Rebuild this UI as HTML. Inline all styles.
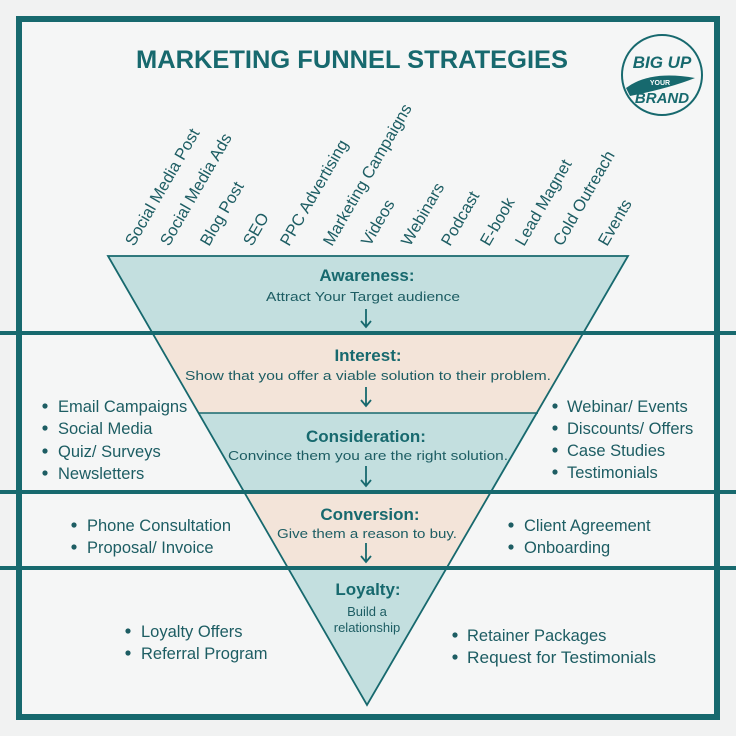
<!DOCTYPE html>
<html><head><meta charset="utf-8"><style>
html,body{margin:0;padding:0;background:#f1f2f2;}
svg{display:block;}
text{font-family:"Liberation Sans",sans-serif;}
</style></head><body>
<svg width="736" height="736" viewBox="0 0 736 736" xmlns="http://www.w3.org/2000/svg">
<rect x="0" y="0" width="736" height="736" fill="#f1f2f2"/>
<rect x="19" y="19" width="698" height="698" fill="#f5f6f6" stroke="#17696e" stroke-width="6"/>
<polygon points="108,256 628,256 584,333 152,333" fill="#c3dfdf"/>
<polygon points="152,333 584,333 538,413 198,413" fill="#f3e4d9"/>
<polygon points="198,413 538,413 492,492 244,492" fill="#c3dfdf"/>
<polygon points="244,492 492,492 447,568 288,568" fill="#f3e4d9"/>
<polygon points="288,568 447,568 367,705" fill="#c3dfdf"/>
<line x1="198" y1="413" x2="538" y2="413" stroke="#17696e" stroke-width="1.5"/>
<polygon points="108,256 628,256 367,705" fill="none" stroke="#17696e" stroke-width="1.8"/>
<rect x="0" y="331" width="736" height="4" fill="#17696e"/>
<rect x="0" y="490" width="736" height="4" fill="#17696e"/>
<rect x="0" y="566" width="736" height="4" fill="#17696e"/>
<text x="352" y="68" text-anchor="middle" font-size="25" font-weight="bold" fill="#17696e" textLength="432" lengthAdjust="spacingAndGlyphs">MARKETING FUNNEL STRATEGIES</text>
<ellipse cx="662" cy="75" rx="40" ry="40" fill="none" stroke="#17696e" stroke-width="2"/>
<text x="662" y="68" text-anchor="middle" font-family="Liberation Serif" font-style="italic" font-weight="bold" font-size="17" fill="#17696e">BIG UP</text>
<path d="M626 88 Q650 70 695 78 Q670 88 630 96 Z" fill="#17696e"/>
<text x="660" y="85" text-anchor="middle" font-size="7" font-weight="bold" fill="#fff">YOUR</text>
<text x="662" y="103" text-anchor="middle" font-family="Liberation Serif" font-style="italic" font-weight="bold" font-size="15" fill="#17696e">BRAND</text>
<g font-size="16.5" fill="#1d5d63">
<text transform="translate(134,247) rotate(-60)">Social Media Post</text>
<text transform="translate(169,247) rotate(-60)">Social Media Ads</text>
<text transform="translate(209,247) rotate(-60)">Blog Post</text>
<text transform="translate(252,247) rotate(-60)">SEO</text>
<text transform="translate(289,247) rotate(-60)">PPC Advertising</text>
<text transform="translate(332,247) rotate(-60)">Marketing Campaigns</text>
<text transform="translate(370,247) rotate(-60)">Videos</text>
<text transform="translate(410,247) rotate(-60)">Webinars</text>
<text transform="translate(450,247) rotate(-60)">Podcast</text>
<text transform="translate(489,247) rotate(-60)">E-book</text>
<text transform="translate(524,247) rotate(-60)">Lead Magnet</text>
<text transform="translate(562,247) rotate(-60)">Cold Outreach</text>
<text transform="translate(607,247) rotate(-60)">Events</text>
</g>
<g text-anchor="middle" fill="#17696e">
<text x="367" y="281" font-size="17" font-weight="bold">Awareness:</text>
<text x="363" y="301" font-size="13" fill="#1d5d63" textLength="194" lengthAdjust="spacingAndGlyphs">Attract Your Target audience</text>
<text x="368" y="361" font-size="17" font-weight="bold">Interest:</text>
<text x="368" y="380" font-size="13" fill="#1d5d63" textLength="366" lengthAdjust="spacingAndGlyphs">Show that you offer a viable solution to their problem.</text>
<text x="366" y="442" font-size="17" font-weight="bold">Consideration:</text>
<text x="368" y="460" font-size="13" fill="#1d5d63" textLength="280" lengthAdjust="spacingAndGlyphs">Convince them you are the right solution.</text>
<text x="370" y="520" font-size="17" font-weight="bold">Conversion:</text>
<text x="367" y="538" font-size="13" fill="#1d5d63" textLength="180" lengthAdjust="spacingAndGlyphs">Give them a reason to buy.</text>
<text x="368" y="595" font-size="17" font-weight="bold">Loyalty:</text>
<text x="367" y="616" font-size="13" fill="#1d5d63">Build a</text>
<text x="367" y="632" font-size="13" fill="#1d5d63">relationship</text>
</g>
<g stroke="#17696e" stroke-width="1.8" fill="none">
<path d="M366 309 V327 M361 321 L366 327 L371 321"/>
<path d="M366 387 V406 M361 400 L366 406 L371 400"/>
<path d="M366 466 V486 M361 480 L366 486 L371 480"/>
<path d="M366 543 V562 M361 556 L366 562 L371 556"/>
</g>
<g font-size="16.5" fill="#1d5d63">
<text x="58" y="412">Email Campaigns</text>
<text x="58" y="434">Social Media</text>
<text x="58" y="457">Quiz/ Surveys</text>
<text x="58" y="479">Newsletters</text>
<text x="567" y="412">Webinar/ Events</text>
<text x="567" y="434">Discounts/ Offers</text>
<text x="567" y="456">Case Studies</text>
<text x="567" y="478">Testimonials</text>
<text x="87" y="531">Phone Consultation</text>
<text x="87" y="553">Proposal/ Invoice</text>
<text x="524" y="531">Client Agreement</text>
<text x="524" y="553">Onboarding</text>
<text x="141" y="637">Loyalty Offers</text>
<text x="141" y="659">Referral Program</text>
<text x="467" y="641">Retainer Packages</text>
<text x="467" y="663" textLength="189" lengthAdjust="spacingAndGlyphs">Request for Testimonials</text>
</g>
<g fill="#1d5d63">
<circle cx="45" cy="406" r="2.6"/><circle cx="45" cy="428" r="2.6"/><circle cx="45" cy="451" r="2.6"/><circle cx="45" cy="473" r="2.6"/>
<circle cx="555" cy="406" r="2.6"/><circle cx="555" cy="428" r="2.6"/><circle cx="555" cy="450" r="2.6"/><circle cx="555" cy="472" r="2.6"/>
<circle cx="74" cy="525" r="2.6"/><circle cx="74" cy="547" r="2.6"/>
<circle cx="511" cy="525" r="2.6"/><circle cx="511" cy="547" r="2.6"/>
<circle cx="128" cy="631" r="2.6"/><circle cx="128" cy="653" r="2.6"/>
<circle cx="455" cy="635" r="2.6"/><circle cx="455" cy="657" r="2.6"/>
</g>
</svg>
</body></html>
